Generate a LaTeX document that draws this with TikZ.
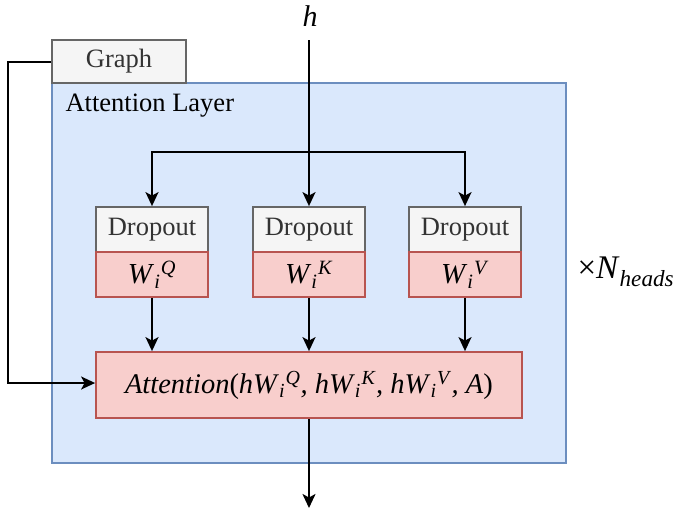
\documentclass[tikz,border=0pt]{standalone}
\usepackage{fontspec}
\setmainfont{Liberation Serif}
\usetikzlibrary{arrows.meta}
\definecolor{greyfill}{HTML}{F5F5F5}
\definecolor{greyline}{HTML}{666666}
\definecolor{bluefill}{HTML}{DAE8FC}
\definecolor{blueline}{HTML}{6C8EBF}
\definecolor{redfill}{HTML}{F8CECC}
\definecolor{redline}{HTML}{B85450}
\definecolor{txtgrey}{HTML}{333333}
\newcommand{\Wq}[1]{\textit{W}\textsubscript{\textit{i}}\kern0.5pt\textsuperscript{\textit{#1}}}
\tikzset{
  greybox/.style={draw=greyline, fill=greyfill, line width=1.8pt, text=txtgrey, inner sep=0pt},
  redbox/.style={draw=redline, fill=redfill, line width=1.8pt, inner sep=0pt},
  layerbox/.style={draw=blueline, fill=bluefill, line width=1.6pt, inner sep=0pt},
  conn/.style={line width=2pt, -{Stealth[length=14pt,width=13pt,inset=3.5pt]}},
  every node/.style={font=\fontsize{26.5}{30}\selectfont}
}
\begin{document}
\begin{tikzpicture}[x=1pt,y=-1pt]
\useasboundingbox (0,0) rectangle (682,512);
% layer
\node[layerbox, minimum width=514pt, minimum height=380pt] (layer) at (309,273) {};
\node[anchor=west] (layertitle) at (62,106) {Attention Layer};
\node[greybox, minimum width=134pt, minimum height=43pt] (graph) at (119,61.5) {Graph};
% input
\node[font=\fontsize{30}{34}\selectfont] (h) at (310,16) {\textit{h}};
\coordinate (htop) at (309,40);
\coordinate (split) at (309,152);
% dropout boxes
\node[greybox, minimum width=112pt, minimum height=45pt] (d1) at (152,229.5) {Dropout};
\node[greybox, minimum width=112pt, minimum height=45pt] (d2) at (309,229.5) {Dropout};
\node[greybox, minimum width=112pt, minimum height=45pt] (d3) at (465,229.5) {Dropout};
\node[redbox, minimum width=112pt, minimum height=45pt, font=\fontsize{29}{32}\selectfont] (w1) at (152,274.5) {\Wq{Q}};
\node[redbox, minimum width=112pt, minimum height=45pt, font=\fontsize{29}{32}\selectfont] (w2) at (309,274.5) {\Wq{K}};
\node[redbox, minimum width=112pt, minimum height=45pt, font=\fontsize{29}{32}\selectfont] (w3) at (465,274.5) {\Wq{V}};
% attention
\node[redbox, minimum width=426pt, minimum height=66pt, font=\fontsize{28.5}{32}\selectfont] (attn) at (309,385)
  {\textit{Attention}(\textit{h}\Wq{Q}\textit{, h}\Wq{K}\textit{, h}\Wq{V}\textit{, A})};
\node[anchor=west, font=\fontsize{33}{36}\selectfont] (nheads) at (574,272) {×\textit{N}\textsubscript{\textit{heads}}};
\coordinate (out) at (309,508);
\coordinate (gleft) at (8,61.5);
\coordinate (gin) at (8,383);
% connectors
\draw[conn] (htop) -- (d2.north);
\draw[conn] (split) -| (d1.north);
\draw[conn] (split) -| (d3.north);
\draw[conn] (w1.south) -- (w1.south |- attn.north);
\draw[conn] (w2.south) -- (w2.south |- attn.north);
\draw[conn] (w3.south) -- (w3.south |- attn.north);
\draw[conn] (attn.south) -- (out);
\draw[conn] (graph.west) -- (gleft) -- (gin) -- (gin -| attn.west);
\end{tikzpicture}
\end{document}
